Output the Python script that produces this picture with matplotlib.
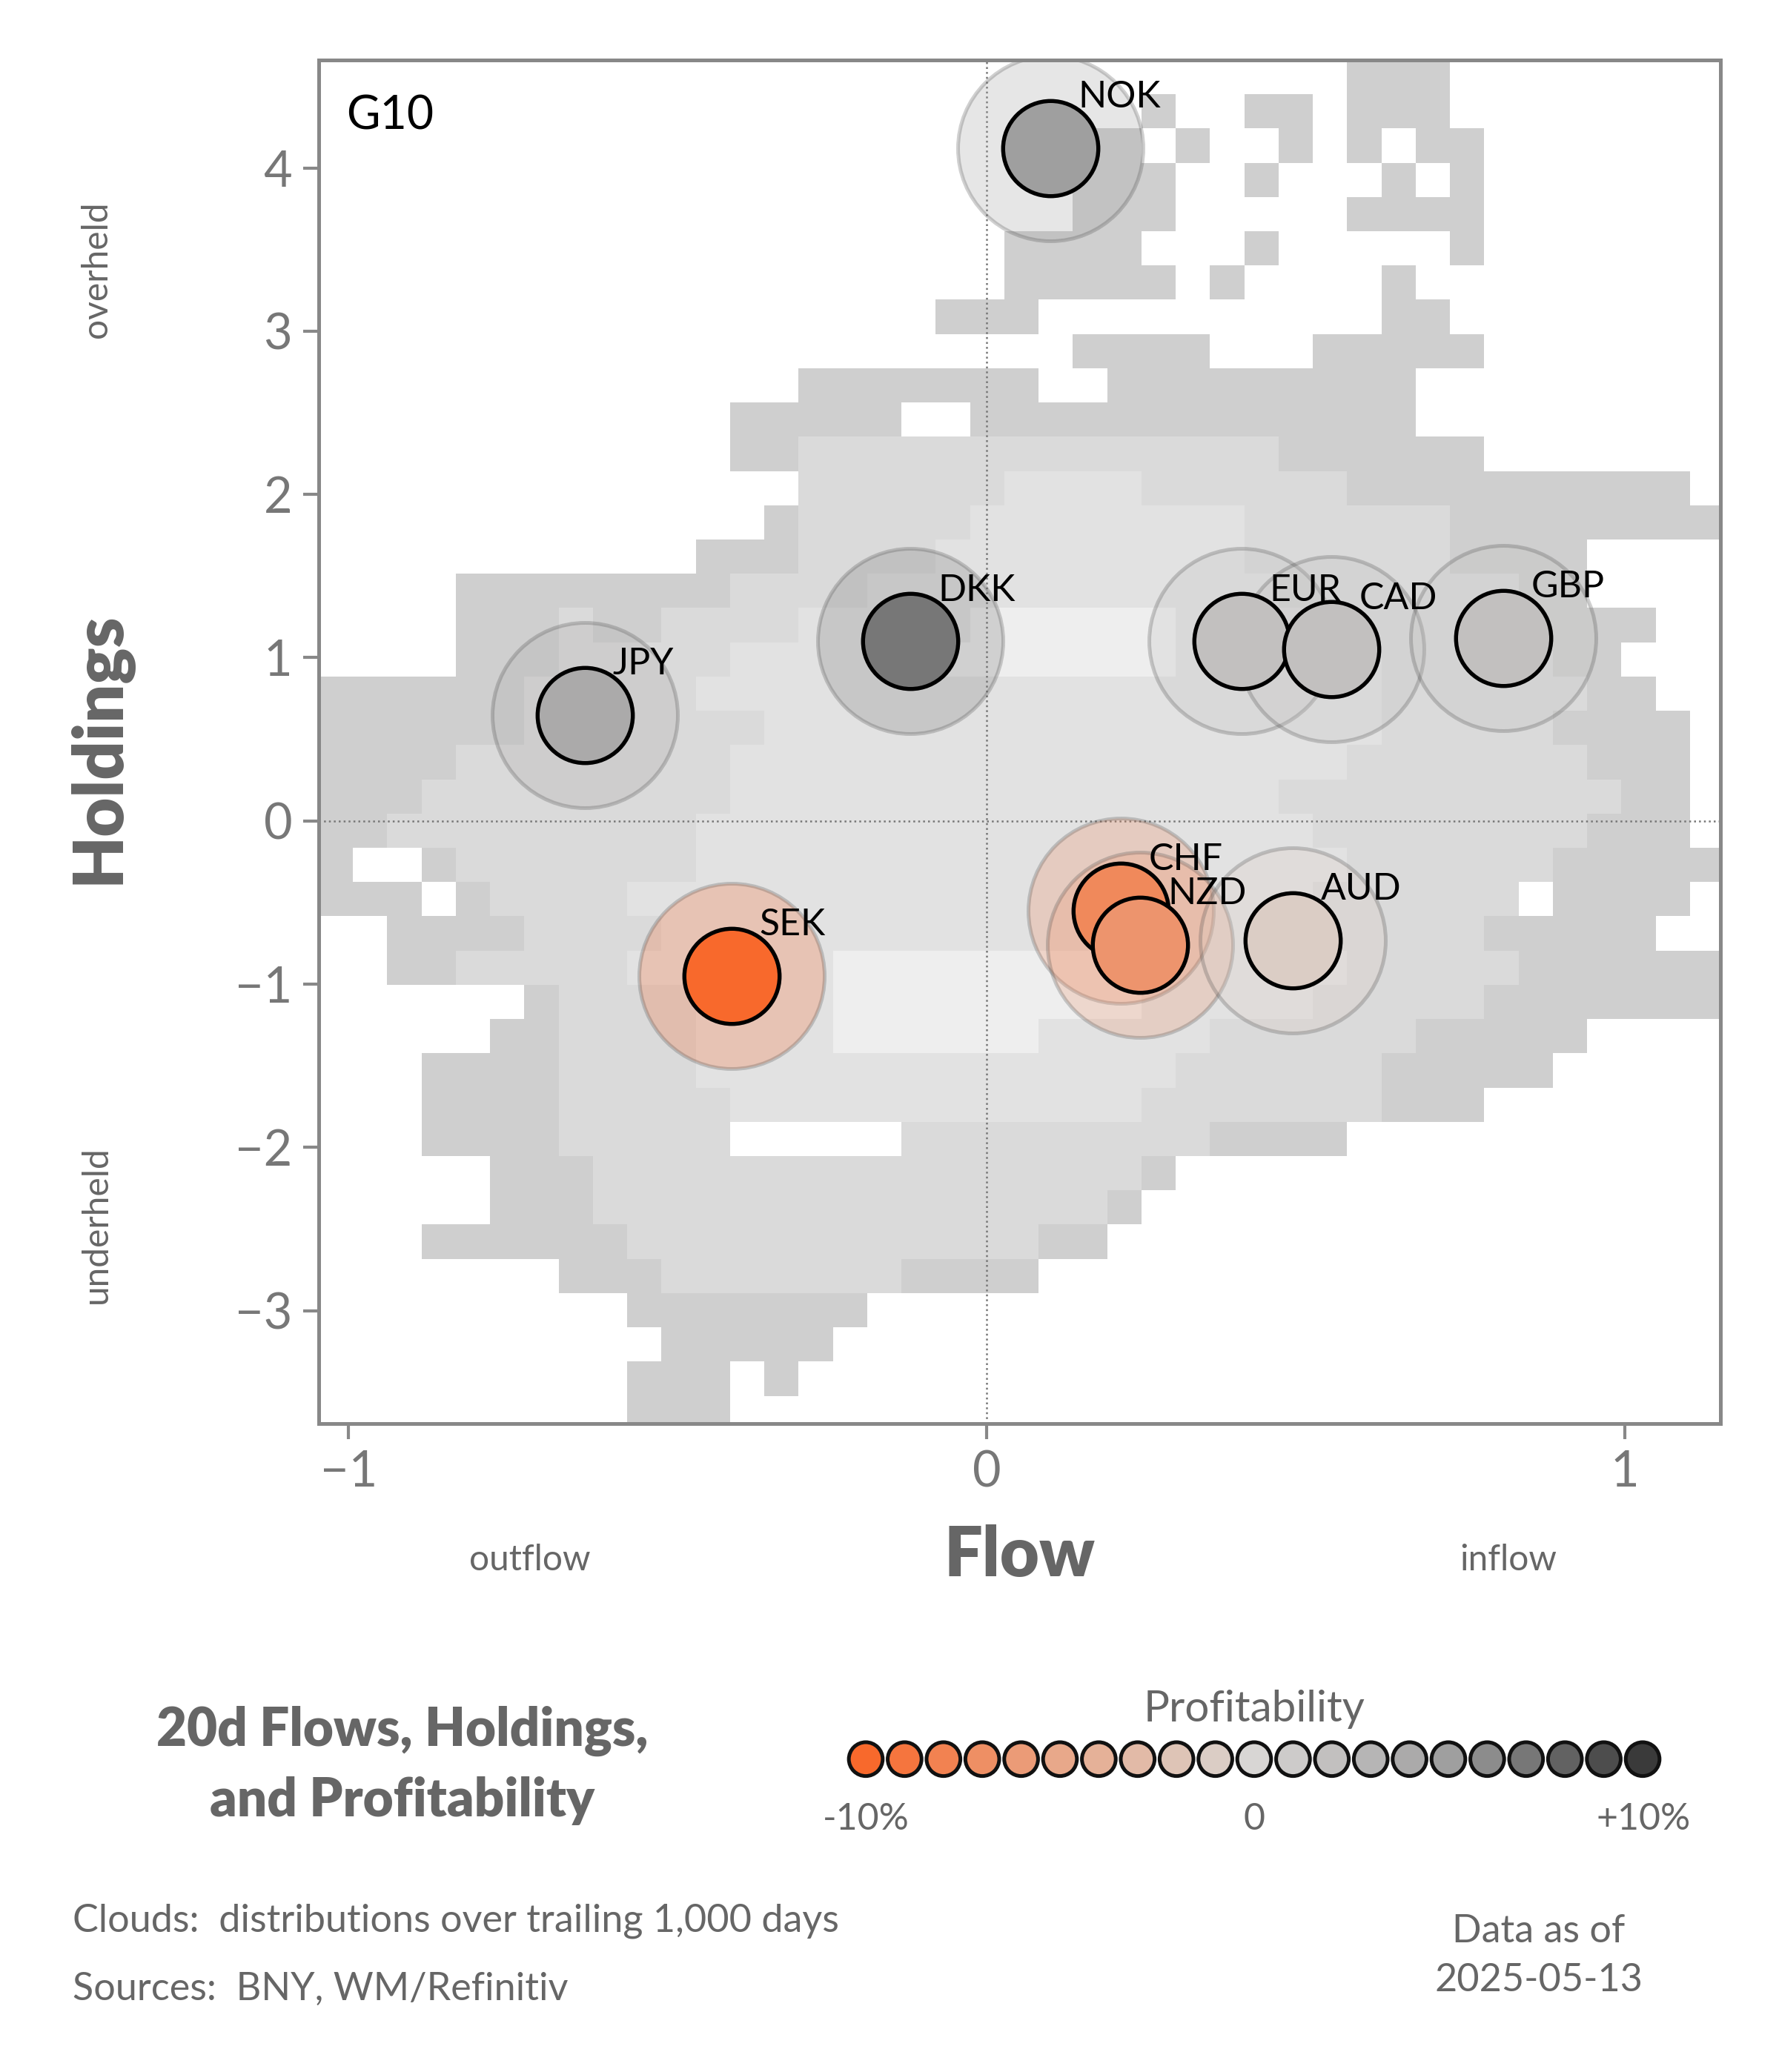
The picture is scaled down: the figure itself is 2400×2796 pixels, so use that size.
import matplotlib
matplotlib.use("Agg")
import matplotlib.pyplot as plt
import numpy as np
from matplotlib.colors import LinearSegmentedColormap, ListedColormap

plt.rcParams["font.family"] = "Lato"

# currency positions: flow, holdings, 20d profitability (%)
ccys = ["NOK", "DKK", "JPY", "EUR", "CAD", "GBP", "CHF", "NZD", "AUD", "SEK"]
flow = [0.10, -0.12, -0.63, 0.40, 0.54, 0.81, 0.21, 0.24, 0.48, -0.40]
hold = [4.12, 1.10, 0.65, 1.10, 1.05, 1.12, -0.55, -0.76, -0.73, -0.95]
profit = [5.0, 7.0, 4.0, 2.0, 2.0, 2.0, -7.5, -6.5, -1.0, -10.0]

# trailing 1,000-day cloud, coarse density levels (top row first)
cloud_rows = [
    "..............................111",
    "........................1..11.111",
    "......................11.1..1.1.11",
    "......................111..1...1.1",
    "......................111.....1111",
    "....................1111...1.....1",
    "....................11111.1....1",
    "..................111..........11",
    "......................1111...11111",
    "..............1111111..111111111",
    "............11111..1111111111111",
    "............1122222222222222111111",
    "..............22222233332222221111111111",
    ".............1222223333333322222211111111",
    "...........11122223333333332222221111",
    "....111111112222333333333333222222211",
    "....11121122223333344444433333222221111",
    "....1112222233333444444443333332222211",
    "111111222223333333333333333333322222211",
    "1111112222222333333333333333333222221111",
    "1111222222223333333333333333332222222111",
    "1112222222223333333333333333222222222211",
    "1122222222233333333333333333322222222111",
    "1..12222222333333333333333333322222211111",
    "111.1222233333333333333333333222222.1111",
    "..1111222233333333333333333332222211111",
    "..11222223333334444444433333332222211111111",
    "......1222233334444444443333322222111111111",
    ".....11222233334444443333322222211111",
    "...111122223333333333333322222211111",
    "...1111222223333333333332222222111",
    "...111122222.....2222222221111",
    ".....11122222222222222221",
    ".....1112222222222222221",
    "...11111122222222222211",
    ".......11122222221111",
    ".........1111111",
    "..........11111",
    ".........111.1",
    ".........111",
]

ncol = 41
grid = np.array([[0 if ch == "." else int(ch) for ch in r[:ncol].ljust(ncol, ".")]
                 for r in cloud_rows], dtype=float)
grid = np.ma.masked_equal(grid, 0)
cloud_cmap = ListedColormap(["#cfcfcf", "#dadada", "#e2e2e2", "#eeeeee"])

prof_cmap = LinearSegmentedColormap.from_list(
    "prof", ["#f8692c", "#e8a88a", "#d8d6d4", "#a0a0a0", "#3a3a3a"])

def pcol(v):
    return prof_cmap((v + 10) / 20)

fig = plt.figure(figsize=(8, 9.32), dpi=300)
ax = fig.add_axes([0.179, 0.313, 0.788, 0.658])

ax.imshow(grid, cmap=cloud_cmap, vmin=0.5, vmax=4.5, interpolation="nearest",
          extent=[-1.0475, 1.155, -3.73, 4.66], aspect="auto", zorder=0)
ax.axvline(0, color="#777777", lw=0.6, ls=":", zorder=1)
ax.axhline(0, color="#777777", lw=0.6, ls=":", zorder=1)

for c, x, y, p in zip(ccys, flow, hold, profit):
    ax.scatter(x, y, s=3600, color=pcol(p), alpha=0.25, edgecolors="#444444",
               linewidths=1.2, zorder=2)
for c, x, y, p in zip(ccys, flow, hold, profit):
    ax.scatter(x, y, s=950, color=pcol(p), edgecolors="black", linewidths=1.3, zorder=3)
    ax.annotate(c, (x, y), xytext=(9, 11), textcoords="offset points",
                ha="left", va="bottom", fontsize=12, color="black", zorder=4)

ax.set_xlim(-1.0475, 1.15)
ax.set_ylim(-3.69, 4.66)
ax.set_xticks([-1, 0, 1])
ax.set_xticklabels(["\u22121", "0", "1"])
ax.set_yticks([-3, -2, -1, 0, 1, 2, 3, 4])
ax.set_yticklabels(["\u22123", "\u22122", "\u22121", "0", "1", "2", "3", "4"])
ax.tick_params(colors="#888888", labelcolor="#777777", labelsize=16, length=5, width=1)
for s in ax.spines.values():
    s.set_color("#888888")
    s.set_linewidth(1.2)
ax.text(0.02, 0.975, "G10", transform=ax.transAxes, ha="left", va="top", fontsize=15)

gray = "#666666"
fig.text(0.573, 0.249, "Flow", ha="center", va="center", fontsize=22, weight="heavy", color=gray)
fig.text(0.298, 0.247, "outflow", ha="center", va="center", fontsize=11.5, color=gray)
fig.text(0.848, 0.247, "inflow", ha="center", va="center", fontsize=11.5, color=gray)
fig.text(0.056, 0.639, "Holdings", ha="center", va="center", rotation=90,
         fontsize=22, weight="heavy", color=gray)
fig.text(0.054, 0.870, "overheld", ha="center", va="center", rotation=90, fontsize=11.5, color=gray)
fig.text(0.054, 0.409, "underheld", ha="center", va="center", rotation=90, fontsize=11.5, color=gray)

fig.text(0.226, 0.148, "20d Flows, Holdings,\nand Profitability", ha="center", va="center",
         fontsize=17, weight="heavy", color=gray, linespacing=1.5)

# profitability legend
lax = fig.add_axes([0.455, 0.135, 0.5, 0.032])
leg_vals = np.linspace(-10, 10, 21)
lax.scatter(leg_vals, np.zeros_like(leg_vals), s=120, c=[pcol(v) for v in leg_vals],
            edgecolors="#111111", linewidths=1.2)
lax.set_xlim(-11.45, 11.45)
lax.set_ylim(-1, 1)
lax.axis("off")
fig.text(0.705, 0.175, "Profitability", ha="center", va="center", fontsize=14, color=gray)
fig.text(0.487, 0.122, "-10%", ha="center", va="center", fontsize=12, color=gray)
fig.text(0.705, 0.122, "0", ha="center", va="center", fontsize=12, color=gray)
fig.text(0.924, 0.122, "+10%", ha="center", va="center", fontsize=12, color=gray)

fig.text(0.041, 0.073, "Clouds:  distributions over trailing 1,000 days", ha="left",
         va="center", fontsize=12.5, color=gray)
fig.text(0.041, 0.040, "Sources:  BNY, WM/Refinitiv", ha="left", va="center",
         fontsize=12.5, color=gray)
fig.text(0.865, 0.056, "Data as of\n2025-05-13", ha="center", va="center",
         fontsize=12.5, color=gray, linespacing=1.5)

fig.savefig("out.png", dpi=300)
